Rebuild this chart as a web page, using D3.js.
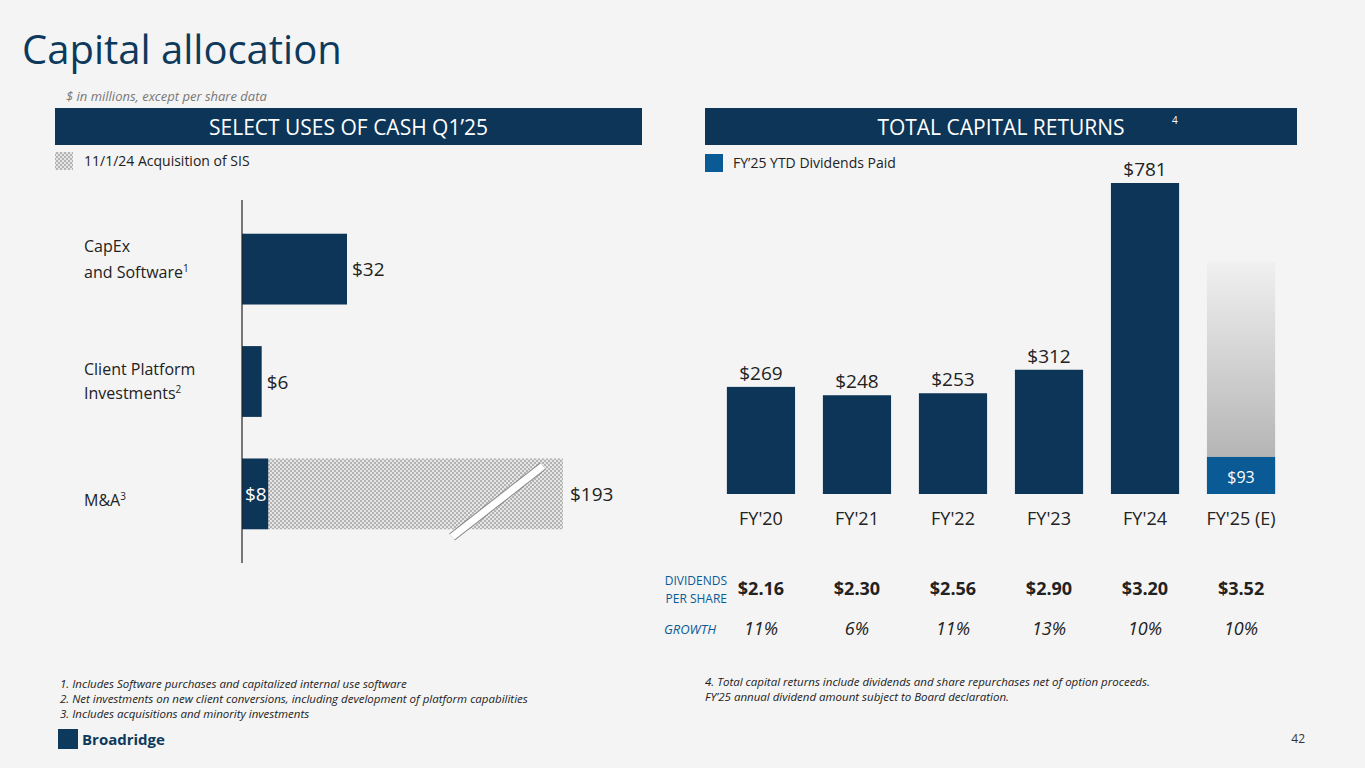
<!DOCTYPE html>
<html><head><meta charset="utf-8">
<script src="https://cdn.jsdelivr.net/npm/d3@7"></script>
<style>
body{margin:0;background:#f4f4f4;font-family:"Open Sans",sans-serif;}
</style></head>
<body>
<svg id="c" width="1365" height="768"></svg>
<script>
// left chart data
const useCats = ["CapEx", "Client Platform", "M&A"];
const useValues = [32, 6, 8];
const maTotal = 193;

// right chart data
const years = ["FY'20", "FY'21", "FY'22", "FY'23", "FY'24", "FY'25 (E)"];
const returns = [269, 248, 253, 312, 781, 583];
const ytdDividends = 93;
const dps = ["$2.16", "$2.30", "$2.56", "$2.90", "$3.20", "$3.52"];
const growth = ["11%", "6%", "11%", "13%", "10%", "10%"];

const navy = "#0d3557";
const svg = d3.select("#c");

const defs = svg.append("defs");
const pat = defs.append("pattern").attr("id", "hatch").attr("width", 4).attr("height", 4)
  .attr("patternUnits", "userSpaceOnUse");
pat.append("rect").attr("width", 4).attr("height", 4).attr("fill", "#e6e6e6");
pat.append("rect").attr("width", 2).attr("height", 2).attr("fill", "#b3b3b3");
pat.append("rect").attr("x", 2).attr("y", 2).attr("width", 2).attr("height", 2).attr("fill", "#b3b3b3");
const grad = defs.append("linearGradient").attr("id", "fade").attr("x1", 0).attr("x2", 0).attr("y1", 0).attr("y2", 1);
grad.append("stop").attr("offset", 0).attr("stop-color", "#f0f0f0");
grad.append("stop").attr("offset", 1).attr("stop-color", "#aaaaaa");

// title
svg.append("text").attr("x", 22).attr("y", 64).attr("font-size", 40).attr("fill", "#0d3a5c").text("Capital allocation");
svg.append("text").attr("x", 66).attr("y", 101).attr("font-size", 13).attr("font-style", "italic").attr("fill", "#777")
  .text("$ in millions, except per share data");

// header bars
[[55, 642, "SELECT USES OF CASH Q1\u201925"], [705, 1297, "TOTAL CAPITAL RETURNS"]].forEach(([a, b, t]) => {
  svg.append("rect").attr("x", a).attr("y", 108).attr("width", b - a).attr("height", 37).attr("fill", navy);
  svg.append("text").attr("x", (a + b) / 2).attr("y", 135).attr("text-anchor", "middle").attr("font-size", 21)
    .attr("fill", "#fff").text(t);
});
svg.append("text").attr("x", 1172).attr("y", 124).attr("font-size", 10).attr("fill", "#fff").text("4");

// legends
svg.append("rect").attr("x", 55).attr("y", 152).attr("width", 18).attr("height", 18).attr("fill", "url(#hatch)");
svg.append("text").attr("x", 84).attr("y", 166).attr("font-size", 14).attr("fill", "#222").text("11/1/24 Acquisition of SIS");
svg.append("rect").attr("x", 705).attr("y", 154).attr("width", 18).attr("height", 18).attr("fill", "#0a5a96");
svg.append("text").attr("x", 733).attr("y", 168).attr("font-size", 14).attr("fill", "#222").text("FY\u201925 YTD Dividends Paid");

// ---- left chart
const ly = d3.scaleBand().domain(useCats).range([200, 563]).paddingInner(0.37).paddingOuter(0.3);
const lx = d3.scaleLinear().domain([0, 32]).range([242, 347]);
const lg = svg.append("g");
// hatched M&A (axis break)
lg.append("rect").attr("x", lx(8)).attr("y", ly("M&A")).attr("width", 563 - lx(8)).attr("height", ly.bandwidth())
  .attr("fill", "url(#hatch)");
lg.append("line").attr("x1", 452).attr("y1", 537).attr("x2", 543).attr("y2", 466)
  .attr("stroke", "#888").attr("stroke-width", 9);
lg.append("line").attr("x1", 452).attr("y1", 537).attr("x2", 543).attr("y2", 466)
  .attr("stroke", "#fff").attr("stroke-width", 7);
lg.selectAll(".b").data(useValues).join("rect")
  .attr("x", lx(0)).attr("y", (d, i) => ly(useCats[i])).attr("width", d => lx(d) - lx(0))
  .attr("height", ly.bandwidth()).attr("fill", navy);
lg.append("line").attr("x1", 242).attr("x2", 242).attr("y1", 200).attr("y2", 563).attr("stroke", "#222").attr("stroke-width", 1.2);
lg.selectAll(".v").data(useValues.slice(0, 2)).join("text")
  .attr("x", d => lx(d) + 5).attr("y", (d, i) => ly(useCats[i]) + ly.bandwidth() / 2 + 7)
  .attr("font-size", 19).attr("fill", "#222").text(d => "$" + d);
lg.append("text").attr("x", 245).attr("y", ly("M&A") + ly.bandwidth() / 2 + 7).attr("font-size", 19).attr("fill", "#fff").text("$8");
lg.append("text").attr("x", 570).attr("y", ly("M&A") + ly.bandwidth() / 2 + 7).attr("font-size", 19).attr("fill", "#222").text("$" + maTotal);
// category labels
const lab = (x, y, t, s) => {
  const e = svg.append("text").attr("x", x).attr("y", y).attr("font-size", 16).attr("fill", "#222").text(t);
  if (s) e.append("tspan").attr("font-size", 10).attr("dy", -6).text(s);
};
lab(84, 252, "CapEx"); lab(84, 278, "and Software", "1");
lab(84, 375, "Client Platform"); lab(84, 399, "Investments", "2");
lab(84, 506, "M&A", "3");

// ---- right chart
const rx = d3.scaleBand().domain(years).range([724, 1278]).paddingInner(0.29).paddingOuter(0.03);
const ry = d3.scaleLinear().domain([0, 781]).range([494, 183]);
const rg = svg.append("g");
rg.selectAll(".r").data(returns).join("rect")
  .attr("x", (d, i) => rx(years[i])).attr("y", d => ry(d)).attr("width", rx.bandwidth())
  .attr("height", d => 494 - ry(d)).attr("fill", (d, i) => i === 5 ? "url(#fade)" : navy);
rg.append("rect").attr("x", rx(years[5])).attr("y", ry(ytdDividends)).attr("width", rx.bandwidth())
  .attr("height", 494 - ry(ytdDividends)).attr("fill", "#0a5a96");
rg.append("text").attr("x", rx(years[5]) + rx.bandwidth() / 2).attr("y", ry(ytdDividends) + 26).attr("text-anchor", "middle")
  .attr("font-size", 16).attr("fill", "#fff").text("$" + ytdDividends);
rg.selectAll(".rv").data(returns.slice(0, 5)).join("text")
  .attr("x", (d, i) => rx(years[i]) + rx.bandwidth() / 2).attr("y", d => ry(d) - 7).attr("text-anchor", "middle")
  .attr("font-size", 19).attr("fill", "#222").text(d => "$" + d);
const xAxis = rg.append("g").attr("transform", "translate(0,494)").call(d3.axisBottom(rx).tickSize(0).tickPadding(18));
xAxis.select(".domain").remove();
xAxis.selectAll("text").attr("font-size", 18).attr("fill", "#222").attr("font-family", "Open Sans, sans-serif");

svg.append("text").attr("x", 727).attr("y", 585).attr("text-anchor", "end").attr("font-size", 12).attr("fill", "#0a5a96").text("DIVIDENDS");
svg.append("text").attr("x", 727).attr("y", 603).attr("text-anchor", "end").attr("font-size", 12).attr("fill", "#0a5a96").text("PER SHARE");
svg.append("text").attr("x", 716).attr("y", 634).attr("text-anchor", "end").attr("font-size", 13).attr("font-style", "italic").attr("fill", "#0a5a96").text("GROWTH");
svg.selectAll(".dps").data(dps).join("text")
  .attr("x", (d, i) => rx(years[i]) + rx.bandwidth() / 2).attr("y", 595).attr("text-anchor", "middle")
  .attr("font-size", 18).attr("font-weight", "bold").attr("fill", "#222").text(d => d);
svg.selectAll(".gr").data(growth).join("text")
  .attr("x", (d, i) => rx(years[i]) + rx.bandwidth() / 2).attr("y", 635).attr("text-anchor", "middle")
  .attr("font-size", 18).attr("font-style", "italic").attr("fill", "#222").text(d => d);

// footnotes
const fn = (x, y, t) => svg.append("text").attr("x", x).attr("y", y).attr("font-size", 11.5).attr("font-style", "italic").attr("fill", "#222").text(t);
fn(60, 688, "1. Includes Software purchases and capitalized internal use software");
fn(60, 703, "2. Net investments on new client conversions, including development of platform capabilities");
fn(60, 718, "3. Includes acquisitions and minority investments");
fn(705, 686, "4. Total capital returns include dividends and share repurchases net of option proceeds.");
fn(705, 701, "FY\u201925 annual dividend amount subject to Board declaration.");

// logo
svg.append("rect").attr("x", 58).attr("y", 729).attr("width", 20).attr("height", 20).attr("fill", "#0d3a5c");
svg.append("text").attr("x", 82).attr("y", 745).attr("font-size", 15).attr("font-weight", "bold").attr("fill", "#0d3a5c").text("Broadridge");
svg.append("text").attr("x", 1305).attr("y", 743).attr("text-anchor", "end").attr("font-size", 12).attr("fill", "#333").text("42");
</script>
</body></html>
